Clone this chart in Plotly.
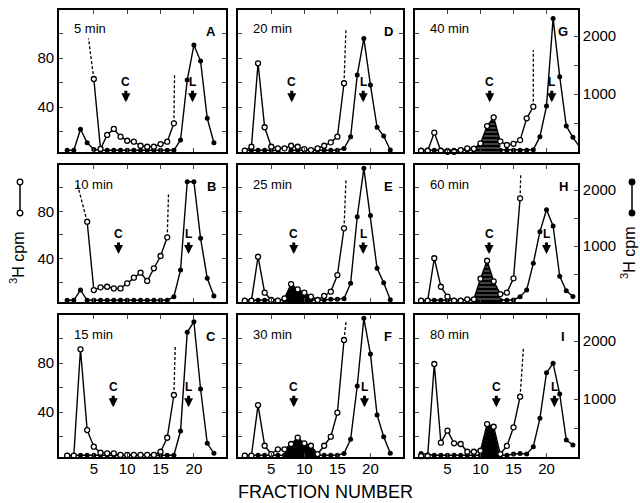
import plotly.graph_objects as go

# ---------------- data (fraction number vs 3H cpm) ----------------
# open circles -> left axis (cpm), filled circles -> right axis (cpm)
A_open_x = [5, 6, 7, 8, 9, 10, 11, 12, 13, 14, 15, 16, 17]
A_open_y = [62.9, 5.8, 17.2, 22.1, 15.8, 12.5, 11.7, 8.4, 7.6, 7.6, 9.8, 11.7, 26.7]
A_fill_x = [1, 2, 3, 4, 5, 6, 7, 8, 9, 10, 11, 12, 13, 14, 15, 16, 17, 18, 19, 20, 21, 22, 23]
A_fill_y = [30, 30, 392, 160, 45, 30, 30, 30, 30, 30, 30, 30, 30, 30, 30, 30, 30, 207, 1241, 1845, 1569, 581, 160]
A_brk_x = [[5, 4.2], [17, 17.1]]
A_brk_y = [[62.9, 96.1], [26.7, 67.0]]

B_open_x = [4, 5, 6, 7, 8, 9, 10, 11, 12, 13, 14, 15, 16]
B_open_y = [71.2, 13.4, 15.7, 16.2, 14.8, 14.8, 19.1, 23.9, 28.1, 21.1, 31.8, 42.2, 58.0]
B_fill_x = [1, 2, 3, 4, 5, 6, 7, 8, 9, 10, 11, 12, 13, 14, 15, 16, 17, 18, 19, 20, 21, 22, 23]
B_fill_y = [30, 30, 215, 30, 30, 30, 30, 30, 30, 30, 30, 30, 30, 30, 30, 30, 95, 572, 2150, 2150, 1139, 423, 107]
B_brk_x = [[4, 2.5], [16, 16.2]]
B_brk_y = [[71.2, 103.7], [58.0, 95.3]]

C_open_x = [1, 2, 3, 4, 5, 6, 7, 8, 9, 10, 11, 12, 13, 14, 15, 16, 17]
C_open_y = [4.4, 4.4, 91.2, 25.3, 11.7, 6.8, 6.3, 6.3, 5.0, 5.0, 5.0, 5.0, 5.0, 5.0, 7.6, 19.0, 53.9]
C_fill_x = [1, 2, 3, 4, 5, 6, 7, 8, 9, 10, 11, 12, 13, 14, 15, 16, 17, 18, 19, 20, 21, 22, 23]
C_fill_y = [30, 30, 30, 30, 30, 30, 30, 30, 30, 30, 30, 30, 30, 30, 30, 30, 30, 448, 2151, 2334, 1173, 236, 64]
C_brk_x = [[17, 17.2]]
C_brk_y = [[53.9, 93.3]]

D_open_x = [1, 2, 3, 4, 5, 6, 7, 8, 9, 10, 11, 12, 13, 14, 15, 16]
D_open_y = [4.4, 7.6, 75.7, 23.5, 7.6, 6.3, 6.3, 8.4, 7.6, 5.7, 4.9, 6.3, 8.4, 11.2, 15.8, 59.4]
D_fill_x = [1, 2, 3, 4, 5, 6, 7, 8, 9, 10, 11, 12, 13, 14, 15, 16, 17, 18, 19, 20, 21, 22, 23]
D_fill_y = [30, 30, 30, 30, 30, 30, -60, 30, 30, 30, 30, 30, 30, 30, 30, 60, 264, 1327, 1960, 1155, 426, 276, 34]
D_brk_x = [[16, 16.3]]
D_brk_y = [[59.4, 104.3]]

E_open_x = [1, 2, 3, 4, 5, 6, 7, 8, 9, 10, 11, 12, 13, 14, 15, 16]
E_open_y = [4.4, 4.4, 41.6, 11.2, 5.0, 4.4, 6.4, 18.5, 14.0, 11.2, 7.8, 5.0, 8.4, 12.0, 26.1, 65.6]
E_fill_x = [1, 2, 3, 4, 5, 6, 7, 8, 9, 10, 11, 12, 13, 14, 15, 16, 17, 18, 19, 20, 21, 22, 23]
E_fill_y = [30, 30, 30, 30, 30, 30, 30, 40, 50, 50, 40, 30, 40, 50, 50, 60, 334, 1525, 2390, 1545, 602, 345, 40]
E_brk_x = [[16, 16.3]]
E_brk_y = [[65.6, 107.1]]

F_open_x = [1, 2, 3, 4, 5, 6, 7, 8, 9, 10, 11, 12, 13, 14, 15, 16]
F_open_y = [4.4, 4.4, 45.7, 12.5, 5.7, 9.6, 9.6, 13.9, 19.1, 14.5, 12.5, 5.7, 12.5, 19.9, 39.5, 98.8]
F_fill_x = [1, 2, 3, 4, 5, 6, 7, 8, 9, 10, 11, 12, 13, 14, 15, 16, 17, 18, 19, 20, 21, 22, 23]
F_fill_y = [30, 30, 30, 30, 30, 30, 30, 30, 30, 30, 30, 30, 30, 30, 30, 60, 305, 1225, 2392, 1775, 725, 350, 64]
F_brk_x = [[16, 16.3]]
F_brk_y = [[98.8, 113.7]]

G_open_x = [1, 2, 3, 4, 5, 6, 7, 8, 9, 10, 11, 12, 13, 14, 15, 16, 17, 18]
G_open_y = [4.3, 4.3, 19.1, 4.3, 3.5, 3.5, 4.9, 6.3, 6.0, 10.3, 24.5, 31.6, 12.0, 9.0, 10.0, 13.0, 30.8, 40.3]
G_fill_x = [1, 2, 3, 4, 5, 6, 7, 8, 9, 10, 11, 12, 13, 14, 15, 16, 17, 18, 19, 20, 21, 22, 23, 24, 25]
G_fill_y = [30, 30, 30, 30, 30, 30, 30, 30, 30, 30, 30, 30, 30, 30, 30, 30, 30, 40, 264, 793, 2305, 1300, 448, 253, 90]
G_brk_x = [[18, 18.0]]
G_brk_y = [[40.3, 86.6]]

H_open_x = [1, 2, 3, 4, 5, 6, 7, 8, 9, 10, 11, 12, 13, 14, 15, 16]
H_open_y = [4.4, 4.4, 40.3, 16.2, 7.8, 4.4, 4.4, 5.6, 5.6, 23.0, 38.2, 20.8, 10.0, 11.2, 23.3, 91.0]
H_fill_x = [1, 2, 3, 4, 5, 6, 7, 8, 9, 10, 11, 12, 13, 14, 15, 16, 17, 18, 19, 20, 21, 22, 23, 24]
H_fill_y = [30, 30, 30, 30, 30, 30, 30, 30, 30, 30, 30, 30, 30, 30, 36, 95, 215, 692, 1257, 1650, 1360, 460, 200, 100]
H_brk_x = [[16, 16.1]]
H_brk_y = [[91.0, 112.2]]

I_open_x = [1, 2, 3, 4, 5, 6, 7, 8, 9, 10, 11, 12, 13, 14, 15, 16]
I_open_y = [4.0, 4.0, 79.2, 15.0, 24.8, 14.5, 13.9, 7.6, 7.6, 8.4, 30.2, 28.0, 5.7, 12.3, 27.5, 52.5]
I_fill_x = [1, 2, 3, 4, 5, 6, 7, 8, 9, 10, 11, 12, 13, 14, 15, 16, 17, 18, 19, 20, 21, 22, 23, 24]
I_fill_y = [60, 40, 30, 30, 30, 30, 30, 30, 30, 30, 30, 30, 30, 30, 50, 60, 50, 178, 667, 1454, 1616, 1087, 293, 207]
I_brk_x = [[16, 16.5]]
I_brk_y = [[52.5, 92.0]]

# shaded peak (fraction span), marker positions of C and L arrows, times
shade_span = {"A": None, "B": None, "C": None, "D": None, "E": (7, 11),
              "F": (7, 12), "G": (9, 13), "H": (9, 13), "I": (10, 13)}
c_pos = {"A": 9.8, "B": 8.7, "C": 7.9, "D": 8.1, "E": 8.4, "F": 8.4, "G": 11.4, "H": 11.3, "I": 12.4}
l_pos = {"A": 19.8, "B": 19.2, "C": 19.2, "D": 18.9, "E": 18.9, "F": 19.1, "G": 20.8, "H": 20.0, "I": 21.2}
times = {"A": "5 min", "B": "10 min", "C": "15 min", "D": "20 min", "E": "25 min",
         "F": "30 min", "G": "40 min", "H": "60 min", "I": "80 min"}
x_ticks = [5, 10, 15, 20]
left_ticks = [20, 40, 60, 80, 100]
left_text = ["", "40", "", "80", ""]
right_ticks = [500, 1000, 1500, 2000]
right_text = ["", "1000", "", "2000"]

data = {
    "A": (A_open_x, A_open_y, A_fill_x, A_fill_y, A_brk_x, A_brk_y),
    "B": (B_open_x, B_open_y, B_fill_x, B_fill_y, B_brk_x, B_brk_y),
    "C": (C_open_x, C_open_y, C_fill_x, C_fill_y, C_brk_x, C_brk_y),
    "D": (D_open_x, D_open_y, D_fill_x, D_fill_y, D_brk_x, D_brk_y),
    "E": (E_open_x, E_open_y, E_fill_x, E_fill_y, E_brk_x, E_brk_y),
    "F": (F_open_x, F_open_y, F_fill_x, F_fill_y, F_brk_x, F_brk_y),
    "G": (G_open_x, G_open_y, G_fill_x, G_fill_y, G_brk_x, G_brk_y),
    "H": (H_open_x, H_open_y, H_fill_x, H_fill_y, H_brk_x, H_brk_y),
    "I": (I_open_x, I_open_y, I_fill_x, I_fill_y, I_brk_x, I_brk_y),
}

# ---------------- layout geometry ----------------
W, Hh = 640, 503
FONT = "Liberation Sans, Arial, Helvetica, sans-serif"
grid = [["A", "D", "G"], ["B", "E", "H"], ["C", "F", "I"]]
cols_px = [(59, 226), (238, 403), (415, 578)]
rows_px = [(10, 152), (165, 302), (315, 457)]
xranges = [[-0.22, 24.81], [-0.03, 24.92], [0.08, 24.77]]
YL = [3.3, 119.2]
YR = [0, 2450]
BASE = 3.3


def X(px):
    return px / W


def Y(py):
    return 1 - py / Hh


fig = go.Figure()
layout = dict(width=W, height=Hh, margin=dict(l=0, r=0, t=0, b=0),
              paper_bgcolor="white", plot_bgcolor="white", showlegend=False,
              font=dict(family=FONT, color="black", size=15))
annotations = []
shapes = []

for r in range(3):
    for c in range(3):
        key = grid[r][c]
        n = r * 3 + c + 1
        nl = n + 9
        x0, x1 = cols_px[c]
        y0, y1 = rows_px[r]
        xa, ya_r, ya_l = f"x{n}", f"y{n}", f"y{nl}"
        ox, oy, fx, fy, bx, by = data[key]

        layout[f"xaxis{n}"] = dict(domain=[X(x0), X(x1)], range=xranges[c], anchor=ya_r,
                                   tickvals=x_ticks, ticks="inside", ticklen=4, tickwidth=1.3,
                                   showline=True, linewidth=1.6, linecolor="black", mirror="ticks",
                                   showticklabels=(r == 2), tickfont=dict(size=15),
                                   ticklabelstandoff=-3,
                                   showgrid=False, zeroline=False)
        right = dict(domain=[Y(y1), Y(y0)], range=YR, anchor=xa, side="right",
                     showgrid=False, zeroline=False)
        if c == 2:
            right.update(tickvals=right_ticks, ticktext=right_text, ticks="inside", ticklen=4,
                         tickwidth=1.3, showline=True, linewidth=1.6, linecolor="black",
                         tickfont=dict(size=15))
        else:
            right.update(visible=False)
        layout[f"yaxis{n}"] = right
        layout[f"yaxis{nl}"] = dict(overlaying=ya_r, anchor=xa, side="left", range=YL,
                                    tickvals=left_ticks, ticktext=left_text, ticks="inside",
                                    ticklen=4, tickwidth=1.3, showline=True, linewidth=1.6,
                                    linecolor="black", mirror=("ticks" if c < 2 else True),
                                    showticklabels=(c == 0), tickfont=dict(size=15),
                                    showgrid=False, zeroline=False)

        # filled circles (right axis)
        fig.add_trace(go.Scatter(x=fx, y=fy, xaxis=xa, yaxis=ya_r, mode="lines+markers",
                                 line=dict(color="black", width=1.4),
                                 marker=dict(color="black", size=5), cliponaxis=False))
        # shaded peak
        span = shade_span[key]
        if span:
            sx = [v for v in ox if span[0] <= v <= span[1]]
            sy = [ov for v, ov in zip(ox, oy) if span[0] <= v <= span[1]]
            patt = dict(shape="-", fgcolor="white", bgcolor="black", size=4, solidity=0.25) \
                if key in ("G", "H") else None
            fig.add_trace(go.Scatter(x=sx + sx[::-1], y=sy + [BASE] * len(sx), xaxis=xa,
                                     yaxis=ya_l, mode="lines", fill="toself",
                                     fillcolor="black", line=dict(width=0, color="black"),
                                     fillpattern=patt))
        # dashed continuation of off-scale values
        for bxx, byy in zip(bx, by):
            fig.add_trace(go.Scatter(x=bxx, y=byy, xaxis=xa, yaxis=ya_l, mode="lines",
                                     line=dict(color="black", width=1.3, dash="3px,2px")))
        # open circles (left axis)
        fig.add_trace(go.Scatter(x=ox, y=oy, xaxis=xa, yaxis=ya_l, mode="lines+markers",
                                 line=dict(color="black", width=1.4),
                                 marker=dict(color="white", size=5, line=dict(color="black", width=1.3)),
                                 cliponaxis=False))
        # C and L arrows
        for txt, pos in (("C", c_pos[key]), ("L", l_pos[key])):
            annotations.append(dict(x=pos, y=44, xref=xa, yref=ya_l, text=f"<b>{txt}</b>",
                                    showarrow=True, arrowhead=2, arrowsize=0.6, arrowwidth=3,
                                    arrowcolor="black", ax=0, ay=-20,
                                    font=dict(size=12, family=FONT)))
        # time and panel letter
        annotations.append(dict(x=X(x0 + 13), y=Y(y0 + 19), xref="paper", yref="paper",
                                text=times[key], showarrow=False, xanchor="left", yanchor="middle",
                                font=dict(size=13, family=FONT)))
        annotations.append(dict(x=X(x1 - 15), y=Y(y0 + 21), xref="paper", yref="paper",
                                text=f"<b>{key}</b>", showarrow=False, xanchor="center",
                                yanchor="middle", font=dict(size=13, family=FONT)))

# axis titles
annotations.append(dict(x=X(325), y=Y(492), xref="paper", yref="paper", text="FRACTION NUMBER",
                        showarrow=False, xanchor="center", yanchor="middle",
                        font=dict(size=18, family=FONT)))
annotations.append(dict(x=X(17), y=Y(258), xref="paper", yref="paper", text="<sup>3</sup>H cpm",
                        showarrow=False, textangle=-90, xanchor="center", yanchor="middle",
                        font=dict(size=16, family=FONT)))
annotations.append(dict(x=X(628), y=Y(253), xref="paper", yref="paper", text="<sup>3</sup>H cpm",
                        showarrow=False, textangle=-90, xanchor="center", yanchor="middle",
                        font=dict(size=16, family=FONT)))

# series key glyphs (open and filled circle symbols)
for gx, filled in ((20, False), (632, True)):
    shapes.append(dict(type="line", xref="paper", yref="paper", x0=X(gx), x1=X(gx),
                       y0=Y(182), y1=Y(213), line=dict(color="black", width=1.5)))
    for gy in (182, 213):
        shapes.append(dict(type="circle", xref="paper", yref="paper",
                           x0=X(gx - 2.8), x1=X(gx + 2.8), y0=Y(gy + 2.8), y1=Y(gy - 2.8),
                           fillcolor=("black" if filled else "white"),
                           line=dict(color="black", width=1.3)))

layout["annotations"] = annotations
layout["shapes"] = shapes
fig.update_layout(**layout)
fig.write_html("out.html")
